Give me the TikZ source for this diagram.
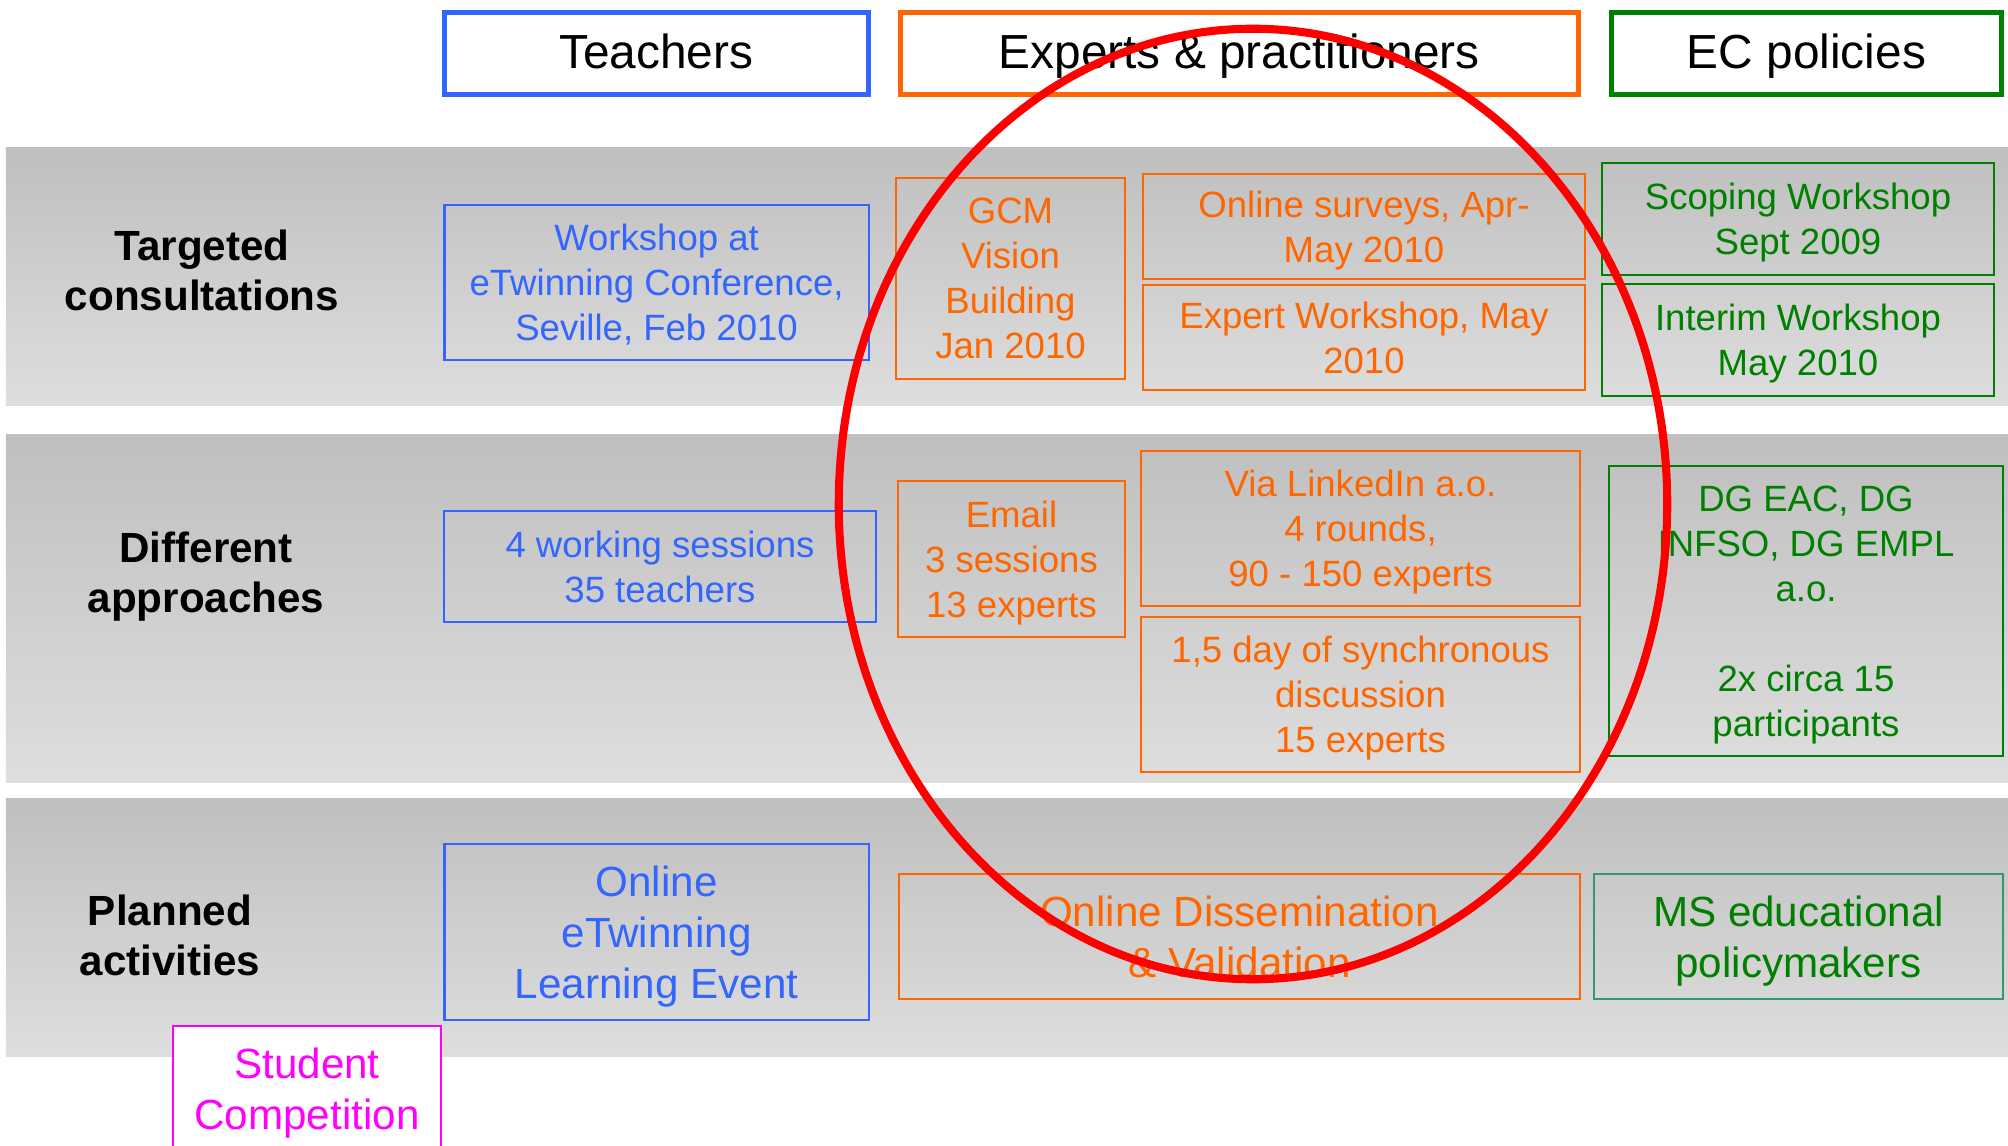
\documentclass[tikz,border=0pt]{standalone}
\usepackage{fontspec}
\setmainfont{Liberation Sans}
\definecolor{tblue}{RGB}{51,102,255}
\definecolor{xorange}{RGB}{255,102,0}
\definecolor{ecgreen}{RGB}{0,128,0}
\definecolor{msgreen}{RGB}{51,153,102}
\definecolor{stmag}{RGB}{255,0,255}
\definecolor{bandtop}{RGB}{191,191,191}
\definecolor{bandbot}{RGB}{222,222,222}

\begin{document}
\begin{tikzpicture}[x=0.01cm,y=-0.01cm,
    head/.style={draw,line width=1.4pt,minimum height=0.82cm,inner sep=0pt,text depth=1.4pt,
      font=\fontsize{13.6}{16}\selectfont},
    item/.style={draw,line width=0.6pt,inner sep=0pt,text depth=0pt,align=center,
      font=\fontsize{10.4}{12.8}\selectfont},
    bigitem/.style={item,font=\fontsize{12}{14.5}\selectfont},
    rowlabel/.style={align=center,inner sep=0pt,text depth=0pt,font=\fontsize{12}{14.2}\selectfont\bfseries},
    band/.style={top color=bandtop,bottom color=bandbot,draw=none}]
  \path[use as bounding box,fill=white] (0,0) rectangle (2008,1146);

  \shade[band] (6,148) rectangle (2008,406);
  \shade[band] (6,435) rectangle (2008,783);
  \shade[band] (6,799) rectangle (2008,1056);

  \node[head,draw=tblue,minimum width=4.235cm] (hTeach) at (656.3,53.5) {Teachers};
  \node[head,draw=xorange,minimum width=6.775cm] (hExp) at (1239.3,53.5) {Experts \& practitioners};
  \node[head,draw=ecgreen,minimum width=3.9cm] (hEC) at (1806.4,53.5) {EC policies};

  \node[rowlabel] (lbTarg) at (202,270) {Targeted\\consultations};
  \node[rowlabel] (lbDiff) at (206,572) {Different\\approaches};
  \node[rowlabel] (lbPlan) at (170,935) {Planned\\activities};

  \node[item,tblue,minimum width=4.24cm,minimum height=1.55cm] (wsSeville) at (656.6,282.5)
    {Workshop at\\eTwinning Conference,\\Seville, Feb 2010};
  \node[item,xorange,minimum width=2.29cm,minimum height=2.01cm] (gcm) at (1010.5,278.5)
    {GCM\\Vision\\Building\\Jan 2010};
  \node[item,xorange,minimum width=4.42cm,minimum height=1.05cm] (survey) at (1364,226.5)
    {Online surveys, Apr-\\May 2010};
  \node[item,xorange,minimum width=4.42cm,minimum height=1.05cm] (expWs) at (1364,337.5)
    {Expert Workshop, May\\2010};
  \node[item,ecgreen,minimum width=3.92cm,minimum height=1.12cm] (scoping) at (1798,219)
    {Scoping Workshop\\Sept 2009};
  \node[item,ecgreen,minimum width=3.92cm,minimum height=1.12cm] (interim) at (1798,340)
    {Interim Workshop\\May 2010};

  \node[item,tblue,minimum width=4.31cm,minimum height=1.11cm] (sessions) at (660,566.5)
    {4 working sessions\\35 teachers};
  \node[item,xorange,minimum width=2.27cm,minimum height=1.56cm] (email) at (1011.5,559)
    {Email\\3 sessions\\13 experts};
  \node[item,xorange,minimum width=4.39cm,minimum height=1.55cm] (linkedin) at (1360.5,528.5)
    {Via LinkedIn a.o.\\4 rounds,\\90 - 150 experts};
  \node[item,xorange,minimum width=4.39cm,minimum height=1.55cm] (sync) at (1360.5,694.5)
    {1,5 day of synchronous\\discussion\\15 experts};
  \node[item,ecgreen,minimum width=3.94cm,minimum height=2.9cm] (dgs) at (1806,611)
    {DG EAC, DG\\INFSO, DG EMPL\\a.o.\\[12.8pt]2x circa 15\\participants};

  \node[bigitem,tblue,minimum width=4.24cm,minimum height=1.76cm] (learnEv) at (656.6,932)
    {Online\\eTwinning\\Learning Event};
  \node[bigitem,xorange,minimum width=6.81cm,minimum height=1.25cm] (dissem) at (1239.5,936.5)
    {Online Dissemination\\\& Validation};
  \node[bigitem,ecgreen,draw=msgreen,minimum width=4.09cm,minimum height=1.25cm] (msPol) at (1798.5,936.5)
    {MS educational\\policymakers};
  \node[bigitem,stmag,fill=white,minimum width=2.675cm,minimum height=1.26cm] (student) at (307,1089)
    {Student\\Competition};

  \draw[red,line width=2.3pt] (1253,504) ellipse [x radius=4.14cm,y radius=4.75cm];
\end{tikzpicture}
\end{document}
